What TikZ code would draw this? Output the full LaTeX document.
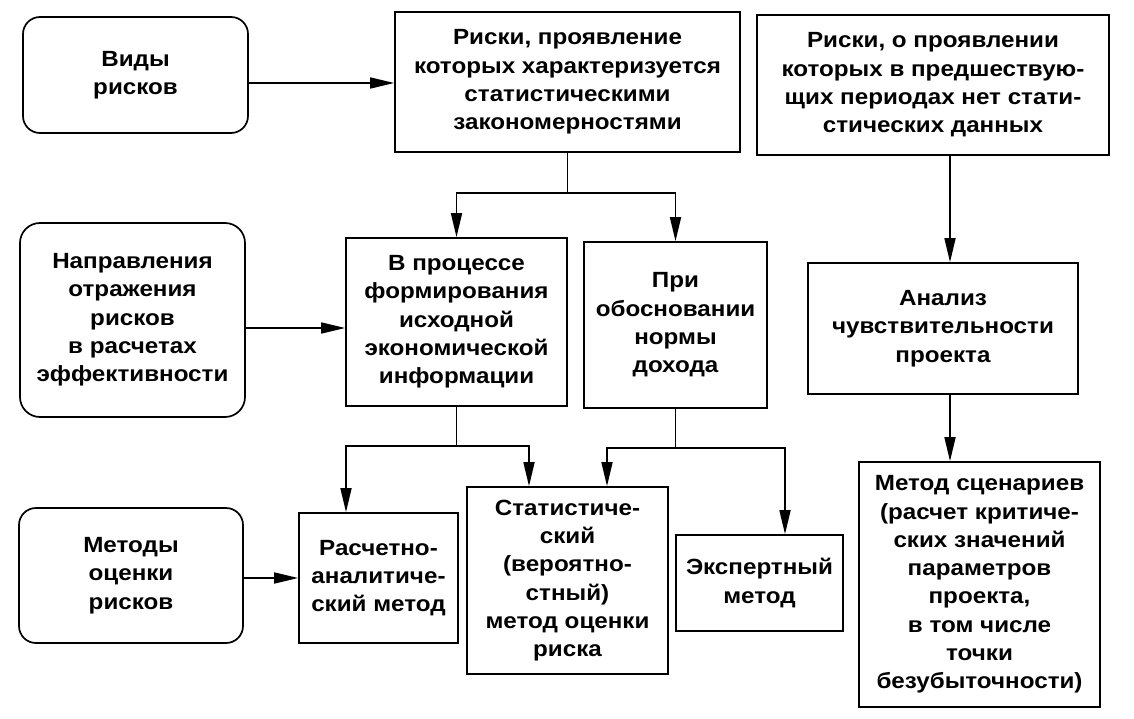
\documentclass[tikz,border=0pt]{standalone}
\usepackage{fontspec}
\setmainfont{Liberation Sans}[FakeStretch=1.1]
\usetikzlibrary{arrows.meta}
\tikzset{
  box/.style={draw=black, line width=1.7pt, rectangle, align=center, inner sep=0pt,
    font=\bfseries\fontsize{22}{28.3}\selectfont},
  rbox/.style={box, rounded corners=17pt},
  conn/.style={line width=1.7pt, draw=black},
  arr/.style={conn, -{Triangle[length=24pt,width=11pt]}}
}
\begin{document}
\begin{tikzpicture}[x=1pt,y=-1pt]
\useasboundingbox[fill=white] (0,0) rectangle (1134,719);
% left column
\node[rbox, minimum width=225pt, minimum height=116pt] (vid) at (135.5,75) {Виды\\рисков};
\node[rbox, rounded corners=20pt, minimum width=225pt, minimum height=194pt] (napr) at (132.5,320) {Направления\\отражения\\рисков\\в расчетах\\эффективности};
\node[rbox, minimum width=224pt, minimum height=135pt] (met) at (131,575.5) {Методы\\оценки\\рисков};
% top row
\node[box, minimum width=345pt, minimum height=140pt] (b2) at (567.5,82) {Риски, проявление\\которых характеризуется\\статистическими\\закономерностями};
\node[box, minimum width=352pt, minimum height=140pt] (b3) at (933,85) {Риски, о проявлении\\которых в предшествую-\\щих периодах нет стати-\\стических данных};
% middle row
\node[box, minimum width=221pt, minimum height=168pt] (proc) at (456.5,322) {В процессе\\формирования\\исходной\\экономической\\информации};
\node[box, minimum width=183pt, minimum height=166pt] (pri) at (675.5,325) {При\\обосновании\\нормы\\дохода};
\node[box, minimum width=270pt, minimum height=131pt] (anal) at (943,328.5) {Анализ\\чувствительности\\проекта};
% bottom row
\node[box, minimum width=159pt, minimum height=130pt] (rasch) at (378.5,578) {Расчетно-\\аналитиче-\\ский метод};
\node[box, minimum width=201pt, minimum height=187pt] (stat) at (567.5,580.5) {Статистиче-\\ский\\(вероятно-\\стный)\\метод оценки\\риска};
\node[box, minimum width=167pt, minimum height=96pt] (eksp) at (759.5,583) {Экспертный\\метод};
\node[box, minimum width=241pt, minimum height=245pt] (scen) at (979.5,584.5) {Метод сценариев\\(расчет критиче-\\ских значений\\параметров\\проекта,\\в том числе\\точки\\безубыточности)};
% connectors
\coordinate (a1) at ([yshift=-8pt]vid.east);
\draw[arr] (a1) -- (a1 -| b2.west);
\coordinate (a2) at ([yshift=-8pt]napr.east);
\draw[arr] (a2) -- (a2 -| proc.west);
\coordinate (a3) at ([yshift=-2.5pt]met.east);
\draw[arr] (a3) -- (a3 -| rasch.west);
\coordinate (j1) at (567.5,193);
\draw[arr] (b2.south) -- (j1) -| (proc.north);
\draw[arr] (j1) -| (pri.north);
\coordinate (j2) at (456.5,446);
\draw[arr] (proc.south) -- (j2) -| ([xshift=-32.5pt]rasch.north);
\draw[arr] (j2) -| ([xshift=-38.5pt]stat.north);
\coordinate (j3) at (675.5,448);
\draw[arr] (pri.south) -- (j3) -| ([xshift=39.5pt]stat.north);
\draw[arr] (j3) -| ([xshift=25.5pt]eksp.north);
\draw[arr] ([xshift=17pt]b3.south) -- ([xshift=7pt]anal.north);
\draw[arr] ([xshift=7pt]anal.south) -- ([xshift=-29.5pt]scen.north);
\end{tikzpicture}
\end{document}
